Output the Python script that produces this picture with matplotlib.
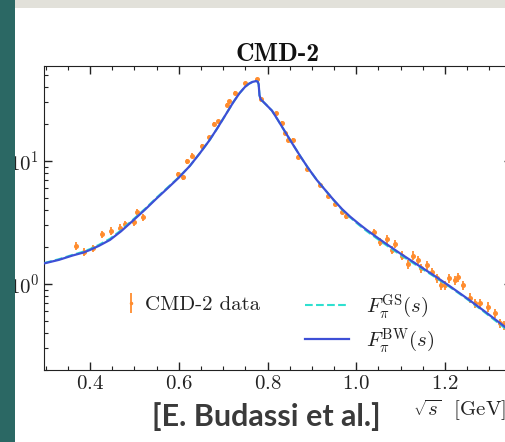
import matplotlib
matplotlib.use("Agg")
import matplotlib.pyplot as plt
from matplotlib.patches import Rectangle

plt.rcParams['font.family'] = 'cmr10'
plt.rcParams['mathtext.fontset'] = 'cm'
plt.rcParams['axes.formatter.use_mathtext'] = True

# CMD-2 data points (sqrt(s) in GeV, |F_pi|^2)
cmd2_x = [0.368, 0.387, 0.407, 0.428, 0.447, 0.468, 0.479, 0.499, 0.507, 0.519,
          0.598, 0.609, 0.618, 0.629, 0.652,
          0.669, 0.680, 0.689, 0.708, 0.714, 0.727, 0.749, 0.776, 0.785, 0.820,
          0.832, 0.840, 0.847, 0.858, 0.869, 0.888, 0.918, 0.937, 0.952, 0.967, 0.978,
          1.039, 1.054, 1.069, 1.080, 1.087, 1.102, 1.117, 1.129, 1.140, 1.147,
          1.159, 1.170, 1.181, 1.192, 1.200, 1.210, 1.223, 1.230, 1.241, 1.256,
          1.268, 1.279, 1.298, 1.313, 1.324, 1.332]
cmd2_y = [2.05, 1.82, 1.95, 2.54, 2.70, 2.87, 3.07, 3.17, 3.85, 3.48,
          7.8, 7.4, 9.9, 11.0, 13.1,
          15.5, 20.0, 20.9, 28.5, 30.5, 35.9, 43.0, 46.0, 31.8, 24.4,
          20.5, 17.0, 14.8, 14.8, 10.8, 8.6, 6.4, 5.2, 4.5, 3.87, 3.55,
          2.62, 2.21, 2.30, 1.89, 2.12, 1.70, 1.45, 1.70, 1.57, 1.34,
          1.43, 1.26, 1.11, 0.98, 0.98, 1.11, 1.08, 1.13, 0.98, 0.77,
          0.70, 0.70, 0.65, 0.58, 0.48, 0.46]
cmd2_err = [0.15, 0.13, 0.14, 0.17, 0.18, 0.19, 0.20, 0.20, 0.24, 0.22,
            0.35, 0.35, 0.45, 0.50, 0.50,
            0.50, 0.60, 0.60, 0.80, 0.80, 0.90, 1.00, 1.10, 0.80, 0.70,
            0.60, 0.50, 0.45, 0.45, 0.35, 0.30, 0.25, 0.20, 0.20, 0.17, 0.16,
            0.20, 0.17, 0.18, 0.15, 0.17, 0.14, 0.12, 0.14, 0.13, 0.11,
            0.12, 0.10, 0.09, 0.08, 0.08, 0.09, 0.09, 0.09, 0.08, 0.07,
            0.06, 0.06, 0.06, 0.05, 0.04, 0.04]

# fitted form factors
fit_x = [0.297, 0.33, 0.36, 0.385, 0.40, 0.42, 0.445, 0.47, 0.498, 0.525,
         0.55, 0.575, 0.60, 0.625, 0.648, 0.668, 0.686, 0.705, 0.723, 0.737,
         0.749, 0.758, 0.766, 0.774, 0.778, 0.780, 0.782, 0.785, 0.790, 0.797,
         0.81, 0.823, 0.836, 0.855, 0.874, 0.892, 0.911, 0.93, 0.949, 0.968,
         0.986, 1.005, 1.024, 1.06, 1.099, 1.137, 1.174, 1.21, 1.249, 1.287,
         1.324, 1.351]
bw_y = [1.47, 1.57, 1.70, 1.80, 1.89, 2.04, 2.28, 2.68, 3.30, 4.05,
        4.95, 6.0, 7.3, 9.1, 11.6, 14.5, 18.2, 23.5, 30.0, 35.5,
        39.8, 42.3, 43.8, 44.5, 44.0, 42.0, 34.0, 31.5, 30.3, 28.6,
        25.6, 21.6, 18.1, 14.0, 10.9, 8.7, 7.0, 5.8, 4.82, 4.06,
        3.53, 3.10, 2.74, 2.21, 1.77, 1.44, 1.18, 0.964, 0.767, 0.608,
        0.481, 0.404]
gs_y = [1.48, 1.59, 1.72, 1.83, 1.92, 2.08, 2.33, 2.73, 3.36, 4.11,
        5.02, 6.08, 7.35, 9.1, 11.6, 14.5, 18.2, 23.5, 30.0, 35.5,
        39.8, 42.3, 43.8, 44.5, 44.0, 42.0, 34.0, 31.5, 30.3, 28.6,
        25.6, 21.6, 18.1, 14.0, 10.9, 8.7, 7.0, 5.8, 4.80, 4.02,
        3.48, 3.04, 2.68, 2.16, 1.73, 1.41, 1.16, 0.950, 0.757, 0.598,
        0.470, 0.394]

fig = plt.figure(figsize=(5.06, 4.42), dpi=100)
fig.patch.set_facecolor('white')
ax = fig.add_axes([44/506, 72/442, 468/506, 304/442])

ax.errorbar(cmd2_x, cmd2_y, yerr=cmd2_err, fmt='o', ms=2.6, color='#ff8c2e',
            elinewidth=1.3, capsize=0, zorder=2)
gs_line, = ax.plot(fit_x, gs_y, '--', color='#2fe0d0', lw=1.5, zorder=3)
bw_line, = ax.plot(fit_x, bw_y, '-', color='#3d4fd6', lw=1.6, zorder=4)

ax.set_yscale('log')
ax.set_xlim(0.2963, 1.351)
ax.set_ylim(0.2, 59)
ax.set_xticks([0.4, 0.6, 0.8, 1.0, 1.2])
ax.set_xticks([0.3 + 0.05*i for i in range(22)], minor=True)
ax.tick_params(which='both', direction='in', top=True, right=True, labelsize=15, colors='#222222')
ax.tick_params(which='major', length=6, width=1)
ax.tick_params(which='minor', length=3, width=0.8)
for sp in ax.spines.values():
    sp.set_color('#222222')

ax.set_title('CMD-2', fontfamily='cmb10', fontsize=18.5, pad=3, color='#111111')
ax.set_xlabel(r'$\sqrt{s}$  [GeV]', fontsize=15, va='center', color='#222222')
ax.xaxis.set_label_coords(0.887, -0.132)

data_h = ax.errorbar([], [], yerr=[], fmt='o', ms=1.5, color='#ff8c2e', elinewidth=1.3)
leg1 = ax.legend([data_h], ['CMD-2 data'], loc='center left', bbox_to_anchor=(0.172, 0.214),
                 frameon=False, fontsize=15, handlelength=0.6, handletextpad=0.39,
                 borderpad=0, borderaxespad=0, labelcolor='#222222')
ax.add_artist(leg1)
ax.legend([gs_line, bw_line], [r'$F_\pi^{\rm GS}(s)$', r'$F_\pi^{\rm BW}(s)$'],
          loc='center left', bbox_to_anchor=(0.558, 0.153), frameon=False, fontsize=15,
          handlelength=2.1, handletextpad=0.8, labelspacing=0.25,
          borderpad=0, borderaxespad=0, labelcolor='#222222')

# slide decorations around the screenshot
fig.patches.append(Rectangle((0, 0), 15/506, 1, transform=fig.transFigure,
                             facecolor='#2b6864', edgecolor='none', zorder=10))
fig.patches.append(Rectangle((15/506, 1 - 8/442), 1, 8/442, transform=fig.transFigure,
                             facecolor='#e2e1da', edgecolor='none', zorder=10))
fig.text(266/506, 1 - 417/442, '[E. Budassi et al.]', fontfamily='Lato', fontweight='bold',
         fontsize=22, color='#3a3a3a', ha='center', va='center')

fig.savefig('out.png', dpi=100)
